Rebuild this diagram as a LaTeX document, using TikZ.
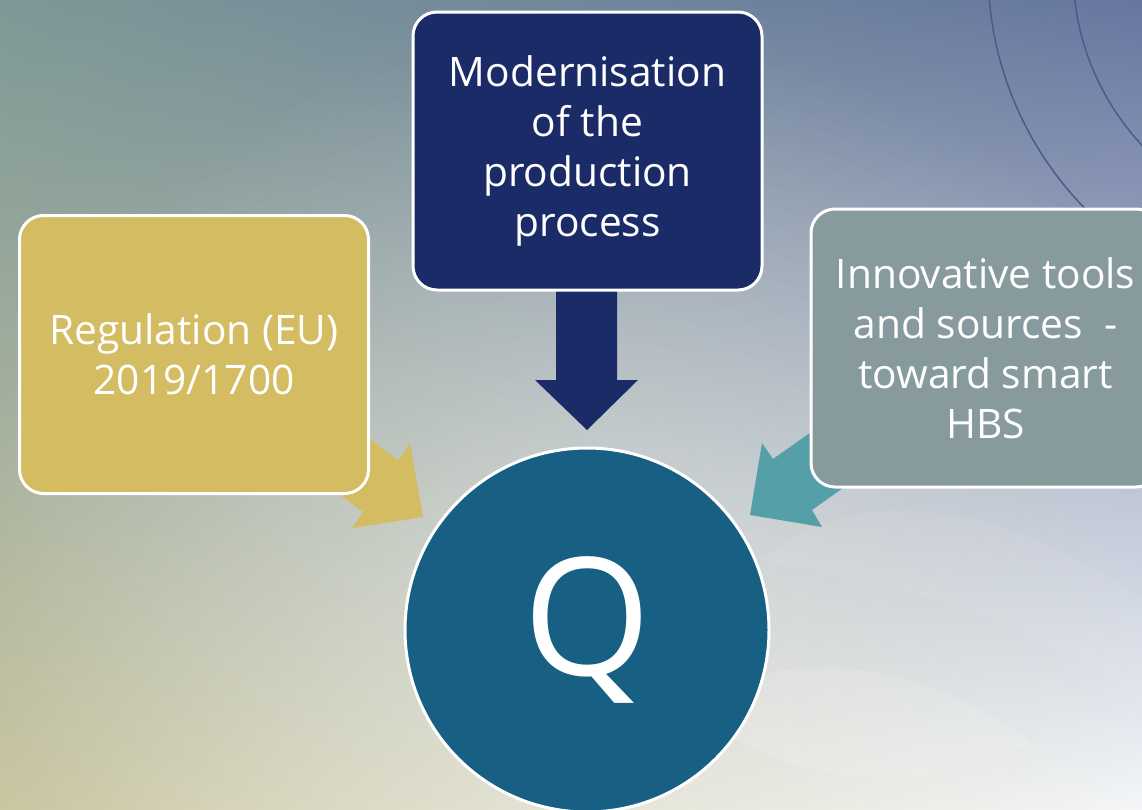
\documentclass[tikz,border=0pt]{standalone}
\usepackage{fontspec}
\setmainfont{Open Sans}
\usetikzlibrary{calc,shadings,fadings}
\definecolor{goldbox}{HTML}{D4BC62}
\definecolor{navybox}{HTML}{1B2B68}
\definecolor{slatebox}{HTML}{879A9E}
\definecolor{tealarrow}{HTML}{55A0A8}
\definecolor{qblue}{HTML}{176084}
\definecolor{arcblue}{HTML}{4A5A8E}
\definecolor{bgUL}{HTML}{7D9896}
\definecolor{bgUR}{HTML}{6676A0}
\definecolor{bgLL}{HTML}{CAC6A2}
\definecolor{bgLR}{HTML}{F4F6F8}
\tikzfading[name=glow, inner color=transparent!0, outer color=transparent!100]
\pgfdeclarelayer{back}
\pgfdeclarelayer{arrowlayer}
\pgfsetlayers{back,arrowlayer,main}
\tikzset{
  box/.style={draw=white, line width=2.25pt, rounded corners=18pt,
    minimum width=261.75pt, minimum height=208.5pt, inner sep=0pt,
    text=white, align=center, font=\fontsize{30.5pt}{37.5pt}\selectfont},
  qcircle/.style={circle, draw=white, line width=2.25pt, fill=qblue,
    minimum size=273pt, inner sep=0pt, text=white,
    font=\fontsize{123pt}{123pt}\selectfont},
  bgarc/.style={draw=arcblue, line width=1.1pt},
  faint/.style={fill=white, opacity=0.12}
}
\begin{document}
\begin{tikzpicture}[x=0.75pt,y=-0.75pt]
\useasboundingbox (0,0) rectangle (1142,810);
\clip (0,0) rectangle (1142,810);

% nodes
\node[box, fill=goldbox] (reg) at (194,354.5) {Regulation (EU)\\2019/1700};
\node[box, fill=navybox] (mod) at (587.5,151) {Modernisation\\of the\\production\\process};
\node[box, fill=slatebox] (inn) at (985.5,348) {Innovative tools\\and sources~ -\\toward smart\\HBS};
\node[qcircle] (q) at (587,630) {Q};

% background
\begin{pgfonlayer}{back}
  \clip (0,0) rectangle (1142,810);
  \shade[upper left=bgUL, upper right=bgUR, lower left=bgLL, lower right=bgLR]
    (0,0) rectangle (1142,810);
  \fill[white, opacity=0.35, path fading=glow] (600,560) ellipse (480pt and 400pt);
  \fill[faint] (690,705) .. controls (790,640) and (930,665) .. (1030,742)
     .. controls (930,800) and (780,790) .. (690,705) -- cycle;
  \fill[white, opacity=0.06] (760,560) .. controls (860,480) and (1000,500) .. (1142,600)
     -- (1142,700) .. controls (1000,600) and (860,580) .. (760,560) -- cycle;
  \coordinate (arcc) at (1330,-30);
  \draw[bgarc] (arcc) circle (256.5pt);
  \draw[bgarc] (arcc) circle (192.75pt);
\end{pgfonlayer}

% block arrows (under the boxes)
\begin{pgfonlayer}{arrowlayer}
  \clip (0,0) rectangle (1142,810);
  \fill[navybox] ($(mod.center)+(-31.5,129)$) -- ($(mod.center)+(29.5,129)$)
    -- ($(q.center)+(30,-250)$) -- ($(q.center)+(51,-250)$)
    -- ($(q.center)+(0,-200)$)
    -- ($(q.center)+(-52,-250)$) -- ($(q.center)+(-31,-250)$) -- cycle;
  \fill[goldbox] ($(reg.center)+(140,57.5)$) -- ($(q.center)+(-189,-170)$)
    -- ($(q.center)+(-177,-187)$) -- ($(q.center)+(-164,-113)$)
    -- ($(q.center)+(-235,-102)$) -- ($(q.center)+(-224,-118)$)
    -- ($(reg.center)+(105,109.5)$) -- cycle;
  \fill[tealarrow] ($(inn.center)+(-147.5,65)$) -- ($(q.center)+(186,-171)$)
    -- ($(q.center)+(175,-187)$) -- ($(q.center)+(163,-115)$)
    -- ($(q.center)+(235,-103)$) -- ($(q.center)+(225,-120)$)
    -- ($(inn.center)+(-108.5,116)$) -- cycle;
\end{pgfonlayer}
\end{tikzpicture}
\end{document}
